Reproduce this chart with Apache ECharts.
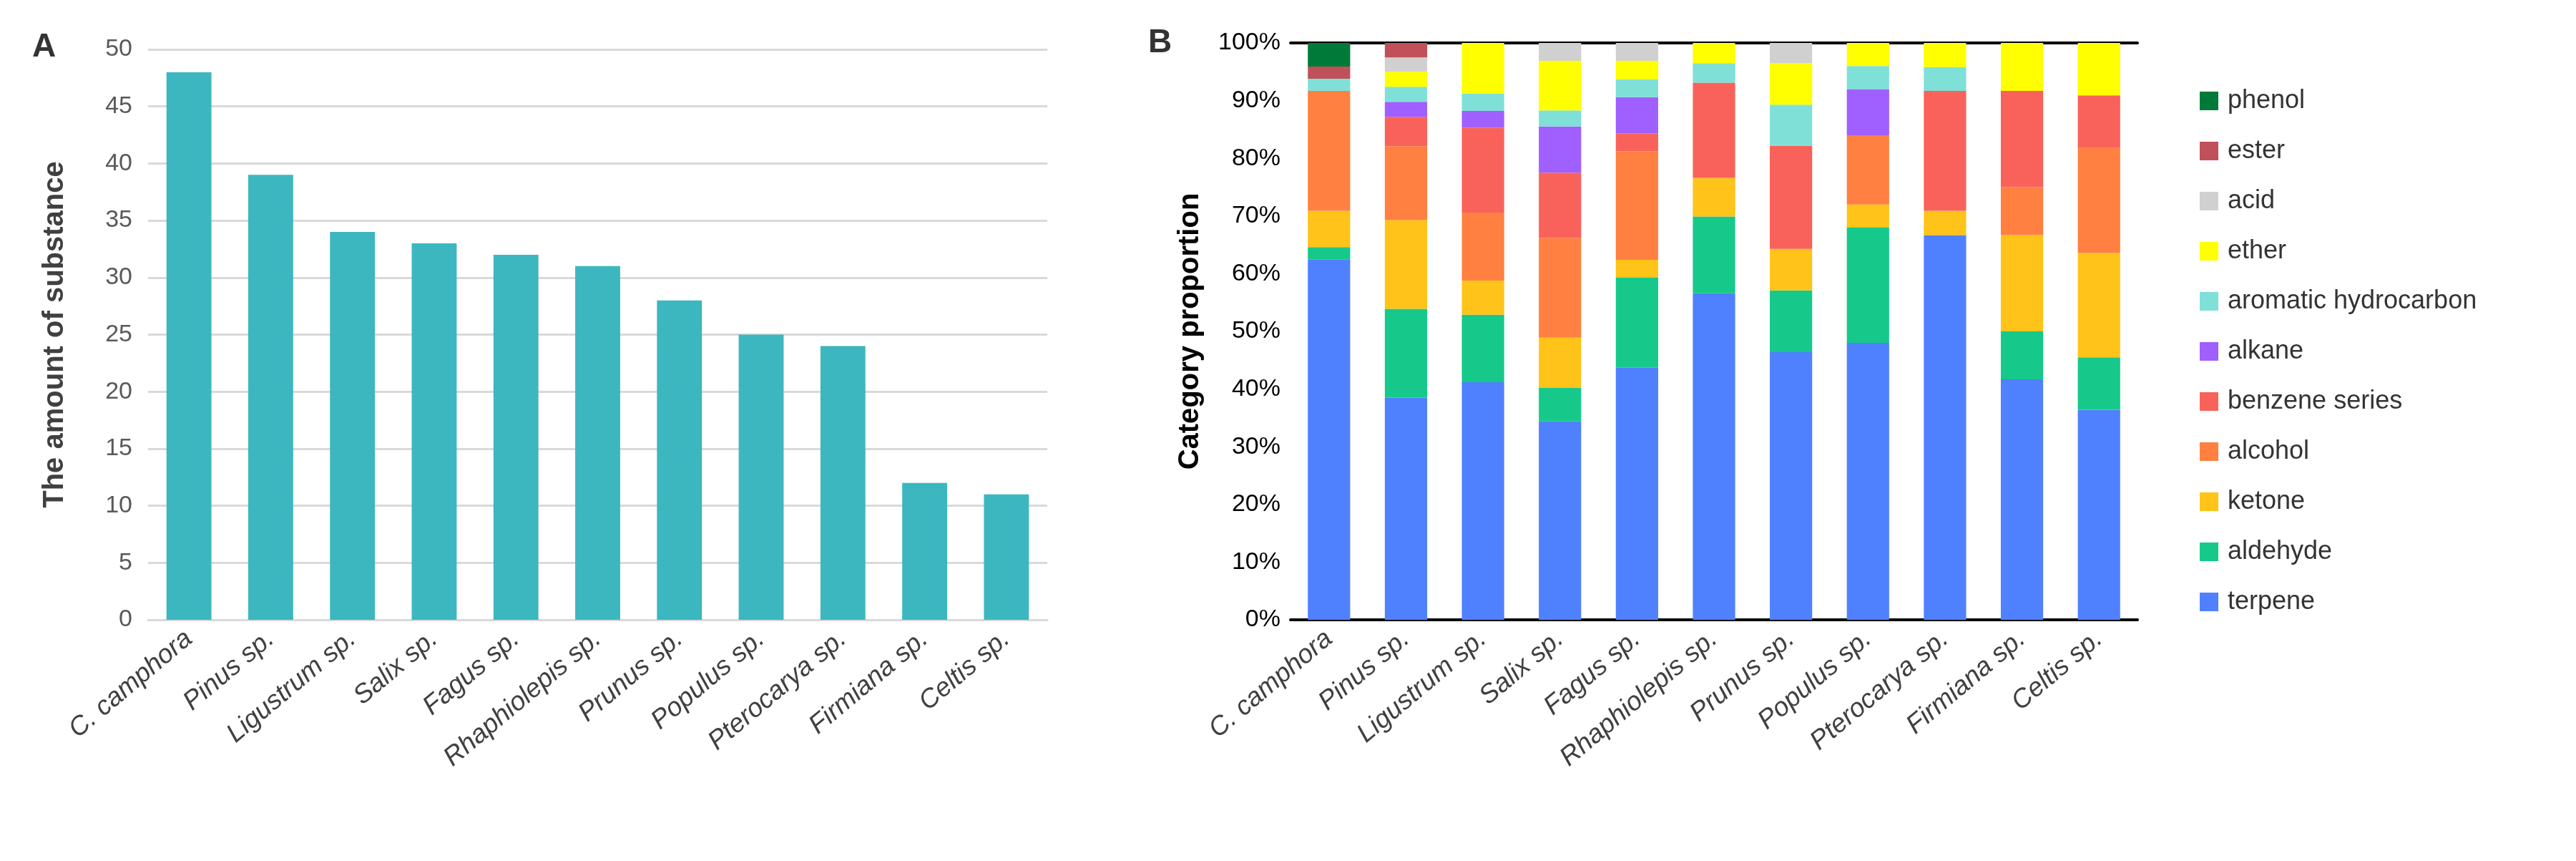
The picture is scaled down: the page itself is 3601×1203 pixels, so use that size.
<!DOCTYPE html>
<html><head><meta charset="utf-8">
<script src="https://cdn.jsdelivr.net/npm/echarts@6/dist/echarts.min.js"></script>
<style>html,body{margin:0;padding:0;background:#fff}#c{width:3601px;height:1203px}</style>
</head><body><div id="c"></div>
<script>
var species = ['C. camphora','Pinus sp.','Ligustrum sp.','Salix sp.','Fagus sp.','Rhaphiolepis sp.','Prunus sp.','Populus sp.','Pterocarya sp.','Firmiana sp.','Celtis sp.'];
var amount = [48,39,34,33,32,31,28,25,24,12,11];

// percentages per category, in species order
var terpene   = [62.5,38.5,41.2,34.4,43.7,56.6,46.4,48.0,66.7,41.7,36.4];
var aldehyde  = [2.1,15.4,11.7,5.8,15.6,13.3,10.7,20.0,0,8.3,9.1];
var ketone    = [6.3,15.4,5.9,8.7,3.1,6.7,7.2,4.0,4.2,16.7,18.1];
var alcohol   = [20.8,12.8,11.8,17.3,18.8,0,0,12.0,0,8.3,18.2];
var benzene   = [0,5.1,14.7,11.3,3.1,16.5,17.9,0,20.8,16.7,9.1];
var alkane    = [0,2.6,2.9,8.0,6.3,0,0,8.0,0,0,0];
var aromatic  = [2.1,2.6,3.0,2.8,3.1,3.4,7.1,4.0,4.1,0,0];
var ether     = [0,2.6,8.8,8.6,3.2,3.5,7.2,4.0,4.2,8.3,9.1];
var acid      = [0,2.5,0,3.1,3.1,0,3.5,0,0,0,0];
var ester     = [2.1,2.5,0,0,0,0,0,0,0,0,0];
var phenol    = [4.1,0,0,0,0,0,0,0,0,0,0];

var stackNames = ['terpene','aldehyde','ketone','alcohol','benzene series','alkane','aromatic hydrocarbon','ether','acid','ester','phenol'];
var stackData = [terpene,aldehyde,ketone,alcohol,benzene,alkane,aromatic,ether,acid,ester,phenol];
var stackColors = ['#4F81FF','#16C98A','#FFC319','#FF8040','#F9625A','#A05FFF','#7FE0D8','#FFFF00','#D0D0D0','#C0505A','#007A38'];

var font = 'Liberation Sans, Arial, sans-serif';
var catLabel = {rotate:40, fontSize:37, fontStyle:'italic', color:'#404040', fontFamily:font, margin:22};

var series = [{
  type:'bar', xAxisIndex:0, yAxisIndex:0, data:amount, barWidth:'55%',
  itemStyle:{color:'#3CB7BF'}
}];
stackData.forEach(function(d,i){
  series.push({type:'bar', name:stackNames[i], stack:'p', xAxisIndex:1, yAxisIndex:1,
    data:d, barWidth:'55%', itemStyle:{color:stackColors[i]}});
});

var chart = echarts.init(document.getElementById('c'));
chart.setOption({
  animation:false,
  textStyle:{fontFamily:font},
  title:[
    {text:'A', left:40, top:38, textStyle:{fontSize:46, fontWeight:'bold', color:'#333'}},
    {text:'B', left:1600, top:32, textStyle:{fontSize:46, fontWeight:'bold', color:'#333'}}
  ],
  legend:{
    data:stackNames.slice().reverse(), orient:'vertical', left:3070, top:118,
    itemWidth:26, itemHeight:26, itemGap:34, icon:'rect',
    textStyle:{fontSize:36, color:'#333', padding:[0,0,0,8]}
  },
  grid:[
    {left:207, right:3601-1464, top:69, bottom:1203-866},
    {left:1804, right:3601-2988, top:60, bottom:1203-866}
  ],
  xAxis:[
    {type:'category', gridIndex:0, data:species, axisTick:{show:false},
     axisLine:{lineStyle:{color:'#d9d9d9', width:3}}, axisLabel:catLabel},
    {type:'category', gridIndex:1, data:species, axisTick:{show:false},
     axisLine:{lineStyle:{color:'#000', width:4}}, axisLabel:catLabel},
    {type:'category', gridIndex:1, data:species, position:'top', axisTick:{show:false},
     axisLine:{lineStyle:{color:'#000', width:4}}, axisLabel:{show:false}}
  ],
  yAxis:[
    {type:'value', gridIndex:0, min:0, max:50, interval:5,
     name:'The amount of substance', nameLocation:'middle', nameGap:110,
     nameTextStyle:{fontSize:40, fontWeight:'bold', color:'#404040'},
     axisLabel:{fontSize:34, color:'#595959', margin:22},
     splitLine:{lineStyle:{color:'#d9d9d9', width:3}}},
    {type:'value', gridIndex:1, min:0, max:100, interval:10,
     name:'Category proportion', nameLocation:'middle', nameGap:120,
     nameTextStyle:{fontSize:40, fontWeight:'bold', color:'#000'},
     axisLabel:{fontSize:34, color:'#000', margin:14, formatter:'{value}%'},
     splitLine:{show:false}}
  ],
  series:series
});
</script></body></html>
